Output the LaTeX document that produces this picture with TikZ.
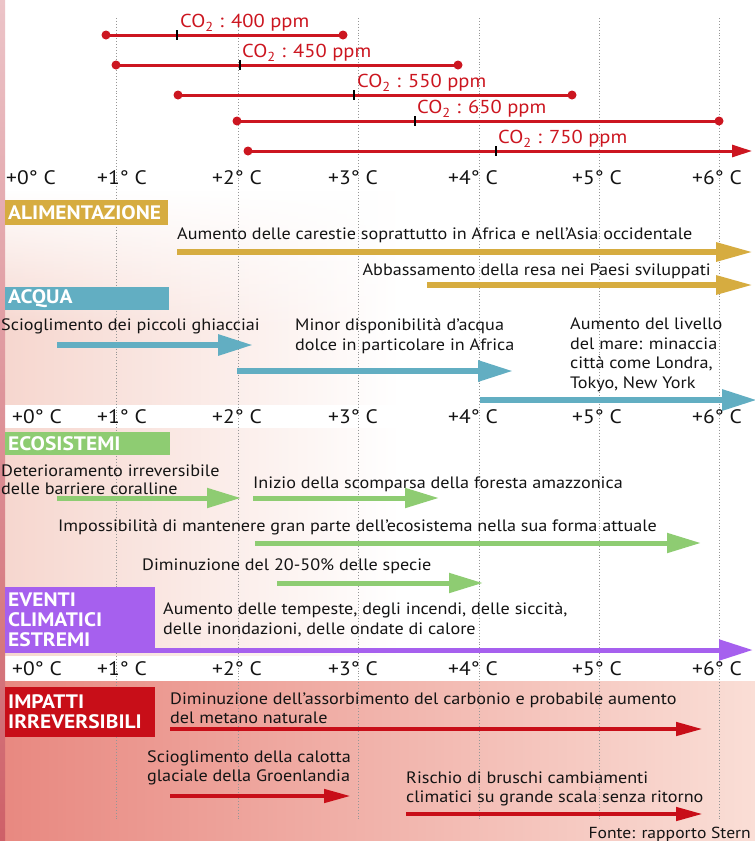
\documentclass[tikz,border=0pt]{standalone}
\usepackage{fontspec}
\setmainfont{PT Sans}[FakeStretch=1.1]
\usetikzlibrary{arrows.meta,fadings}
\definecolor{cRed}{RGB}{204,22,32}
\definecolor{cGold}{RGB}{214,172,64}
\definecolor{cTeal}{RGB}{98,174,194}
\definecolor{cGreen}{RGB}{142,204,114}
\definecolor{cPurple}{RGB}{166,96,238}
\definecolor{cImp}{RGB}{200,14,24}
\definecolor{cText}{RGB}{20,20,20}
\definecolor{cGrid}{RGB}{150,150,150}
\definecolor{bgPink}{RGB}{246,214,206}
\definecolor{bgRedL}{RGB}{232,136,128}
\definecolor{bgRedR}{RGB}{250,222,214}
\definecolor{bgEdgeT}{RGB}{236,196,200}
\definecolor{bgEdgeB}{RGB}{206,96,104}
\tikzfading[name=fadetop,top color=transparent!100,bottom color=transparent!0]

\begin{document}
\begin{tikzpicture}[x=1pt,y=-1pt,
  txt/.style={anchor=west,align=left,inner sep=0pt,text=cText,font=\fontsize{16.5}{19.5}\selectfont},
  deg/.style={anchor=west,inner sep=0pt,text=cText,font=\fontsize{19.5}{19.5}\selectfont},
  co2lbl/.style={anchor=west,inner sep=0pt,text=cRed,font=\fontsize{18.7}{18.7}\selectfont},
  hdr/.style={anchor=north west,inner xsep=3pt,inner ysep=0pt,text=white,align=left,
    font=\bfseries\fontsize{19.5}{20}\selectfont},
  dot/.style={circle,fill=cRed,inner sep=0pt,minimum size=9pt},
  tickmark/.style={rectangle,fill=black,inner sep=0pt,minimum width=2pt,minimum height=10pt},
  co2/.style={cRed,line width=3pt},
  grid/.style={cGrid,dotted,line width=0.9pt},
  garr/.style={cGold,line width=6pt,-{Triangle[length=37pt,width=18pt]}},
  tarr/.style={cTeal,line width=6pt,-{Triangle[length=35pt,width=20pt]}},
  earr/.style={cGreen,line width=5pt,-{Triangle[length=34pt,width=19pt]}},
  parr/.style={cPurple,line width=5pt,-{Triangle[length=34pt,width=20pt]}},
  rarr/.style={cImp,line width=4.5pt,-{Triangle[length=27pt,width=13pt]}}]
\useasboundingbox (0,0) rectangle (755,841);
\fill[white] (0,0) rectangle (755,841);
\shade[left color=bgPink,right color=white,path fading=fadetop] (0,190) rectangle (400,330);
\shade[left color=bgPink,right color=white] (0,330) rectangle (400,656);
\shade[left color=bgRedL,right color=bgRedR] (0,681) rectangle (755,841);
\fill[white] (0,405) rectangle (755,428);
\fill[white] (0,656) rectangle (755,681);
\shade[top color=bgEdgeT,bottom color=bgEdgeB] (0,0) rectangle (5,841);
\foreach \x in {116,238,358,479,599,719}
  \draw[grid] (\x,18) -- (\x,820);

% concentrazioni di CO2
\node[dot] (p400s) at (106,35) {};
\node[dot] (p400e) at (343,35) {};
\draw[co2] (p400s.center) -- (p400e.center);
\node[tickmark] (t400) at (177,35) {};
\node[co2lbl] (l400) at (180,23) {CO\textsubscript{2} : 400 ppm};
\node[dot] (p450s) at (116,65) {};
\node[dot] (p450e) at (458,65) {};
\draw[co2] (p450s.center) -- (p450e.center);
\node[tickmark] (t450) at (240,65) {};
\node[co2lbl] (l450) at (242,53) {CO\textsubscript{2} : 450 ppm};
\node[dot] (p550s) at (178,95) {};
\node[dot] (p550e) at (572,95) {};
\draw[co2] (p550s.center) -- (p550e.center);
\node[tickmark] (t550) at (354,95) {};
\node[co2lbl] (l550) at (357,83) {CO\textsubscript{2} : 550 ppm};
\node[dot] (p650s) at (237,121) {};
\node[dot] (p650e) at (719,121) {};
\draw[co2] (p650s.center) -- (p650e.center);
\node[tickmark] (t650) at (415,121) {};
\node[co2lbl] (l650) at (417,109) {CO\textsubscript{2} : 650 ppm};
\node[dot] (p750s) at (248,151) {};
\coordinate (p750e) at (752,151);
\draw[co2,-{Triangle[length=20pt,width=12pt]}] (p750s.center) -- (p750e);
\node[tickmark] (t750) at (496,151) {};
\node[co2lbl] (l750) at (498,139) {CO\textsubscript{2} : 750 ppm};

% scale di temperatura
\foreach \n/\x in {0/6,1/97,2/212,3/328,4/448,5/572,6/692}
  \node[deg] (da\n) at (\x,178) {+\n° C};
\foreach \n/\x in {0/12,1/97,2/212,3/328,4/448,5/572,6/692}
  \node[deg] (db\n) at (\x,417) {+\n° C};
\foreach \n/\x in {0/12,1/97,2/212,3/328,4/448,5/572,6/692}
  \node[deg] (dc\n) at (\x,669) {+\n° C};

% alimentazione
\node[hdr,fill=cGold,text width=157pt,minimum height=25pt] (alim) at (5,200) {ALIMENTAZIONE};
\node[txt] (alim1) at (177,235) {Aumento delle carestie soprattutto in Africa e nell'Asia occidentale};
\coordinate (alim1s) at (177,252);
\coordinate (alim1e) at (753,252);
\draw[garr] (alim1s) -- (alim1e);
\node[txt,anchor=east] (alim2) at (711,271) {Abbassamento della resa nei Paesi sviluppati};
\coordinate (alim2s) at (427,285);
\coordinate (alim2e) at (753,285);
\draw[garr] (alim2s) -- (alim2e);

% acqua
\node[hdr,fill=cTeal,text width=158pt,minimum height=23pt] (acqua) at (5,287) {ACQUA};
\node[txt] (acq1) at (1,326) {Scioglimento dei piccoli ghiacciai};
\coordinate (acq1s) at (57,345);
\coordinate (acq1e) at (253,345);
\draw[tarr] (acq1s) -- (acq1e);
\node[txt] (acq2) at (295,336) {Minor disponibilità d'acqua\\dolce in particolare in Africa};
\coordinate (acq2s) at (237,371);
\coordinate (acq2e) at (513,371);
\draw[tarr] (acq2s) -- (acq2e);
\node[txt] (acq3) at (570,355) {Aumento del livello\\del mare: minaccia\\città come Londra,\\Tokyo, New York};
\coordinate (acq3s) at (480,400);
\coordinate (acq3e) at (757,400);
\draw[tarr] (acq3s) -- (acq3e);

% ecosistemi
\node[hdr,fill=cGreen,text width=159pt,minimum height=23pt] (eco) at (5,432) {ECOSISTEMI};
\node[txt,font=\fontsize{16.5}{17.5}\selectfont] (eco1) at (1,480) {Deterioramento irreversibile\\delle barriere coralline};
\coordinate (eco1s) at (57,498);
\coordinate (eco1e) at (241,498);
\draw[earr] (eco1s) -- (eco1e);
\node[txt] (eco2) at (253,484) {Inizio della scomparsa della foresta amazzonica};
\coordinate (eco2s) at (253,498);
\coordinate (eco2e) at (439,498);
\draw[earr] (eco2s) -- (eco2e);
\node[txt] (eco3) at (58,527) {Impossibilità di mantenere gran parte dell'ecosistema nella sua forma attuale};
\coordinate (eco3s) at (255,543);
\coordinate (eco3e) at (701,543);
\draw[earr] (eco3s) -- (eco3e);
\node[txt] (eco4) at (142,566) {Diminuzione del 20-50\% delle specie};
\coordinate (eco4s) at (277,583);
\coordinate (eco4e) at (483,583);
\draw[earr] (eco4s) -- (eco4e);

% eventi climatici estremi
\node[hdr,fill=cPurple,text width=144pt,minimum height=66pt] (eventi) at (5,587) {EVENTI\\CLIMATICI\\ESTREMI};
\node[txt] (ev1) at (163,620) {Aumento delle tempeste, degli incendi, delle siccità,\\delle inondazioni, delle ondate di calore};
\coordinate (ev1s) at (155,650);
\coordinate (ev1e) at (753,650);
\draw[parr] (ev1s) -- (ev1e);

% impatti irreversibili
\node[hdr,fill=cImp,text width=144pt,minimum height=50pt] (imp) at (5,687) {IMPATTI\\IRREVERSIBILI};
\node[txt] (imp1) at (170,708) {Diminuzione dell'assorbimento del carbonio e probabile aumento\\del metano naturale};
\coordinate (imp1s) at (170,729);
\coordinate (imp1e) at (703,729);
\draw[rarr] (imp1s) -- (imp1e);
\node[txt] (imp2) at (147,768) {Scioglimento della calotta\\glaciale della Groenlandia};
\coordinate (imp2s) at (170,796);
\coordinate (imp2e) at (351,796);
\draw[rarr] (imp2s) -- (imp2e);
\node[txt] (imp3) at (406,789) {Rischio di bruschi cambiamenti\\climatici su grande scala senza ritorno};
\coordinate (imp3s) at (406,814);
\coordinate (imp3e) at (703,814);
\draw[rarr] (imp3s) -- (imp3e);
\node[txt,anchor=east,font=\fontsize{16}{16}\selectfont] (fonte) at (751,834) {Fonte: rapporto Stern};
\end{tikzpicture}
\end{document}
